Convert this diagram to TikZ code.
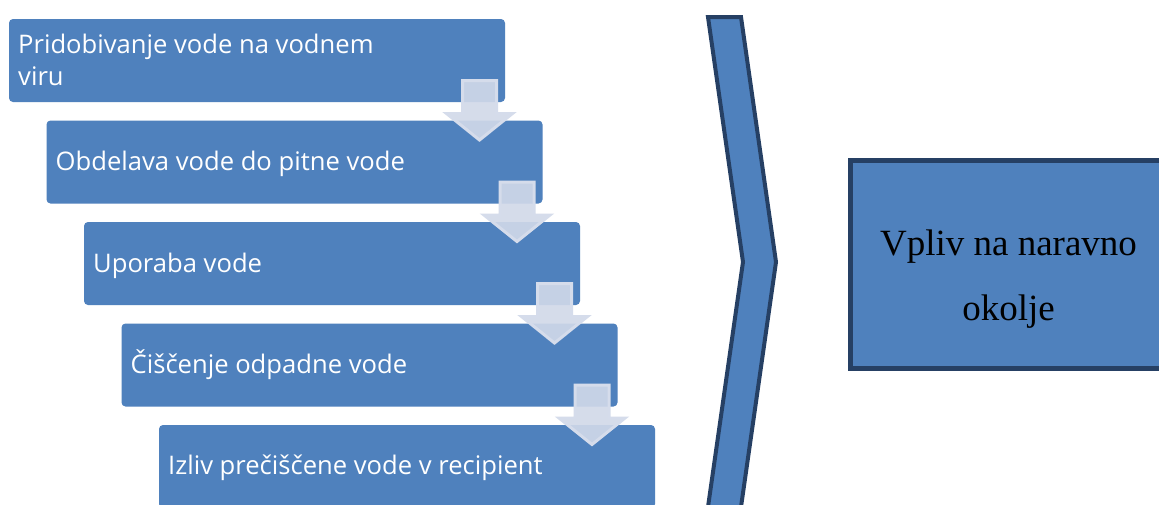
\documentclass[tikz,border=0pt]{standalone}
\usepackage{fontspec}
\setmainfont{Liberation Serif}
\newfontfamily\boxfont{Open Sans}
\definecolor{boxblue}{RGB}{79,129,189}
\definecolor{darkedge}{RGB}{38,64,100}
\definecolor{arrowfill}{RGB}{209,217,233}
\definecolor{arrowedge}{RGB}{213,220,235}
\tikzset{
  stepbox/.style={fill=boxblue, draw=none, rounded corners=4pt},
  steptext/.style={anchor=base west, inner sep=0pt, text=white, font=\boxfont\fontsize{25.6}{32}\selectfont},
  downarrow/.style={fill=arrowfill, fill opacity=0.91, draw=arrowedge, line width=3pt, line join=miter},
}
\begin{document}
\begin{tikzpicture}[x=1pt,y=-1pt]
\useasboundingbox (0,0) rectangle (1159,504);
\clip (0,0) rectangle (1159,504);
\fill[white] (0,0) rectangle (1159,504);
% step boxes
\foreach \i in {0,...,4}{
  \path[stepbox] ({9+37.5*\i},{19+101.5*\i}) rectangle ({505+37.5*\i},{102+101.5*\i});
}
\node[steptext] (t1) at (18,53) {Pridobivanje vode na vodnem};
\node[steptext] (t1b) at (18,85) {viru};
\node[steptext] (t2) at (55.5,170) {Obdelava vode do pitne vode};
\node[steptext] (t3) at (93,272) {Uporaba vode};
\node[steptext] (t4) at (130.5,373) {Čiščenje odpadne vode};
\node[steptext] (t5) at (168,474) {Izliv prečiščene vode v recipient};
% arrows
\foreach \i in {0,...,3}{
  \begin{scope}[shift={({37.5*\i},{101.5*\i})}]
    \path[downarrow] (462.5,80.5) -- (496.5,80.5) -- (496.5,113.5) -- (512.5,113.5)
      -- (479.5,140) -- (446.5,113.5) -- (462.5,113.5) -- cycle;
  \end{scope}
}
% chevron
\draw[fill=boxblue, draw=darkedge, line width=4pt, line join=miter]
  (708,17) -- (741,17) -- (776,262) -- (741,507) -- (708,507) -- (743,262) -- cycle;
% right box
\node[draw=darkedge, fill=boxblue, line width=5pt, minimum width=330pt, minimum height=208pt, anchor=north west, inner sep=0pt] (impact) at (847.5,157.5) {};
\node[anchor=base, inner sep=0pt, font=\fontsize{37}{63}\selectfont] (l1) at (1008.5,255) {Vpliv na naravno};
\node[anchor=base, inner sep=0pt, font=\fontsize{37}{63}\selectfont] (l2) at (1008.5,320) {okolje};
\end{tikzpicture}
\end{document}
